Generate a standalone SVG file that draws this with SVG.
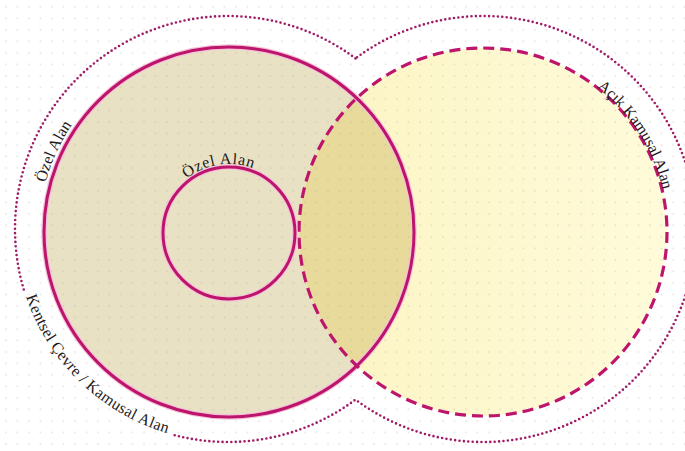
<svg xmlns="http://www.w3.org/2000/svg" width="685" height="451" viewBox="0 0 685 451">
<style>
.solid{fill:none;stroke:#bd146c;stroke-width:3}
.halo{fill:none;stroke:#f4c3d8;stroke-width:5.5}
.dashed{fill:none;stroke:#bd146c;stroke-width:3.2;stroke-dasharray:11 6}
.dotted{fill:none;stroke:#a01c66;stroke-width:2.6;stroke-linecap:round;stroke-dasharray:0 4.4}
.lbl{font-family:"Liberation Serif","DejaVu Serif",serif;font-size:16px;fill:#1f1b1a}
</style>
<defs>
<pattern id="grid" x="0" y="1" width="11.5" height="11.5" patternUnits="userSpaceOnUse">
<circle cx="6" cy="6" r="0.9" fill="#9a9a9a" fill-opacity="0.28"/>
</pattern>
<linearGradient id="yel" x1="0" y1="0" x2="1" y2="0">
<stop offset="0" stop-color="#fbf4c2"/>
<stop offset="1" stop-color="#fffbda"/>
</linearGradient>
<clipPath id="leftClip"><circle cx="229" cy="232" r="185"/></clipPath>
<path id="tpOuterLeft" d="M 45.5 182.8 A 189 189 0 0 1 94.6 97.6"/>
<path id="tpInner" d="M 186.5 178.6 A 69 69 0 0 1 281.9 188.6"/>
<path id="tpRight" d="M 597 87.4 A 185 185 0 0 1 668 232"/>
<path id="tpBottom" d="M 26 296.6 A 213 213 0 0 0 209.4 441.2"/>
</defs>
<rect width="685" height="451" fill="#ffffff"/>
<g id="fills">
<circle cx="229" cy="232" r="185" fill="#e9e1c4"/>
<circle cx="483" cy="232" r="184" fill="url(#yel)"/>
<circle cx="483" cy="232" r="184" fill="#e7da9b" clip-path="url(#leftClip)"/>
</g>
<rect width="685" height="451" fill="url(#grid)"/>
<g id="connectors">
<path class="dotted" d="M 355.5 58.4 A 213 213 0 0 0 24.3 291.3"/>
<path class="dotted" d="M 174.7 435.2 A 213 213 0 0 0 355.5 399.6 A 213 213 0 1 0 355.5 58.4"/>
</g>
<g id="node-kentsel">
<text class="lbl"><textPath href="#tpBottom" textLength="204" lengthAdjust="spacing">Kentsel Çevre / Kamusal Alan</textPath></text>
</g>
<g id="node-ozel-outer">
<circle class="halo" cx="229" cy="232" r="185"/>
<circle class="solid" cx="229" cy="232" r="185"/>
<text class="lbl"><textPath href="#tpOuterLeft" textLength="64" lengthAdjust="spacing">Özel Alan</textPath></text>
</g>
<g id="node-acik">
<circle class="dashed" cx="483" cy="232" r="184"/>
<text class="lbl"><textPath href="#tpRight" textLength="124" lengthAdjust="spacing">Açık Kamusal Alan</textPath></text>
</g>
<g id="node-ozel-inner">
<circle class="halo" cx="229" cy="233" r="66"/>
<circle class="solid" cx="229" cy="233" r="66"/>
<text class="lbl"><textPath href="#tpInner" textLength="70" lengthAdjust="spacing">Özel Alan</textPath></text>
</g>
</svg>
